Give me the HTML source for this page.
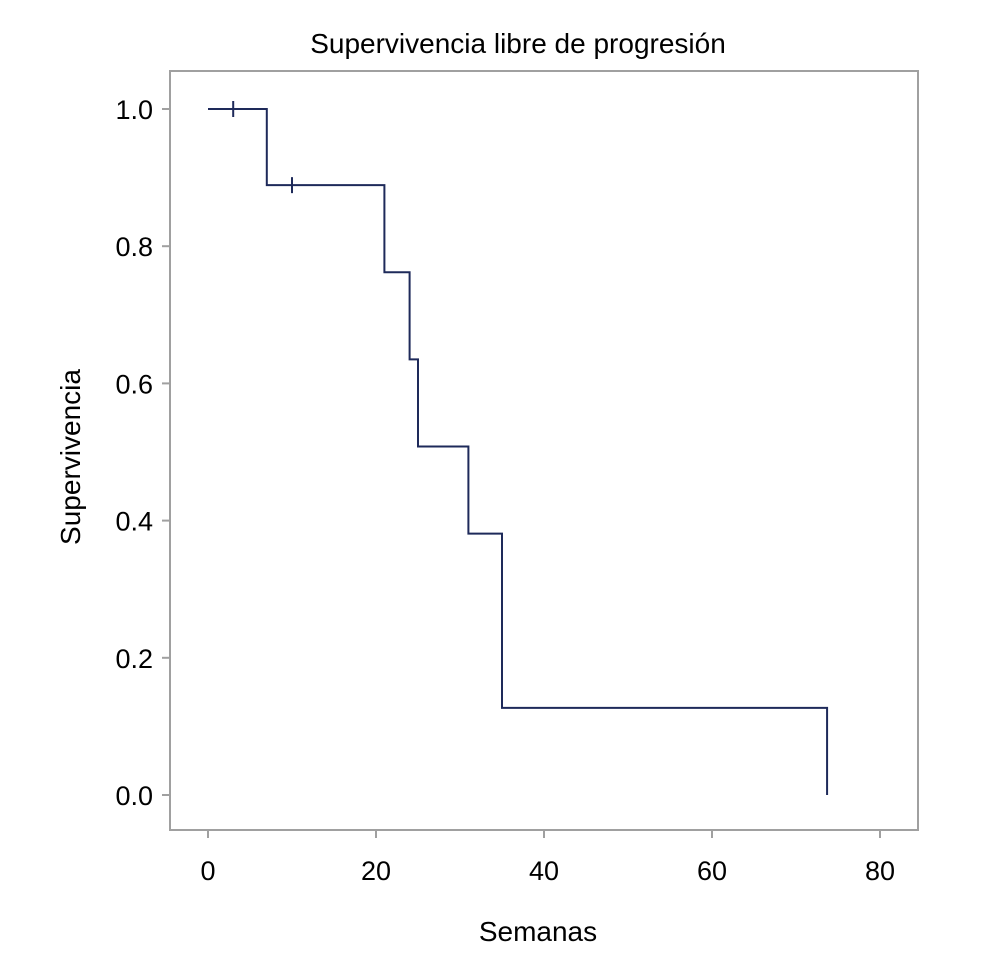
<!DOCTYPE html>
<html><head><meta charset="utf-8"><style>
body{margin:0;background:#fff;}
text{font-family:"Liberation Sans",Arial,sans-serif;fill:#000;}
</style></head><body>
<svg id="chart" width="987" height="970" viewBox="0 0 987 970">
<text x="518" y="53" font-size="28" text-anchor="middle">Supervivencia libre de progresión</text>
<rect x="170" y="71" width="748" height="759" fill="none" stroke="#a0a0a0" stroke-width="2"/>
<g id="xaxis"></g>
<g id="yaxis"></g>
<text x="538" y="941" font-size="28" text-anchor="middle">Semanas</text>
<text transform="translate(80,457) rotate(-90)" font-size="28" text-anchor="middle">Supervivencia</text>
<g id="series"></g>
</svg>
<script>
const eventTimes=[7,21,24,25,31,35,73.7];
const survival=[1.0,0.889,0.762,0.635,0.508,0.381,0.127,0.0];
const censorTimes=[3,10];
const censorSurv=[1.0,0.889];
const xTicks=[0,20,40,60,80];
const yTicks=[0,0.2,0.4,0.6,0.8,1.0];
const xs=v=>208+v*8.4;
const ys=v=>795-v*686;
const NS='http://www.w3.org/2000/svg';
function mk(tag,attrs,parent){const e=document.createElementNS(NS,tag);for(const k in attrs)e.setAttribute(k,attrs[k]);parent.appendChild(e);return e;}
const xa=document.getElementById('xaxis'),ya=document.getElementById('yaxis'),se=document.getElementById('series');
xTicks.forEach(t=>{
 const l=mk('line',{x1:xs(t),x2:xs(t),y1:830,y2:838,stroke:'#a0a0a0','stroke-width':2},xa);
 
 
 const tx=mk('text',{x:xs(t),y:880,'font-size':27,'text-anchor':'middle'},xa);tx.textContent=t;
 
 
});
yTicks.forEach(t=>{
 const l=mk('line',{x1:162,x2:170,y1:ys(t),y2:ys(t),stroke:'#a0a0a0','stroke-width':2},ya);
 
 
 const tx=mk('text',{x:153,y:ys(t)+10,'font-size':27,'text-anchor':'end'},ya);tx.textContent=t.toFixed(1);
 
 
});
let d='M'+xs(0)+','+ys(survival[0]);
eventTimes.forEach((t,i)=>{d+=' H'+xs(t)+' V'+ys(survival[i+1]);});
const p=mk('path',{d:d,fill:'none',stroke:'#1e2a5a','stroke-width':2},se);


censorTimes.forEach((t,i)=>{
 const c=mk('line',{x1:xs(t),x2:xs(t),y1:ys(censorSurv[i])-8,y2:ys(censorSurv[i])+8,stroke:'#1e2a5a','stroke-width':2},se);
 
 
});
</script>
</body></html>
